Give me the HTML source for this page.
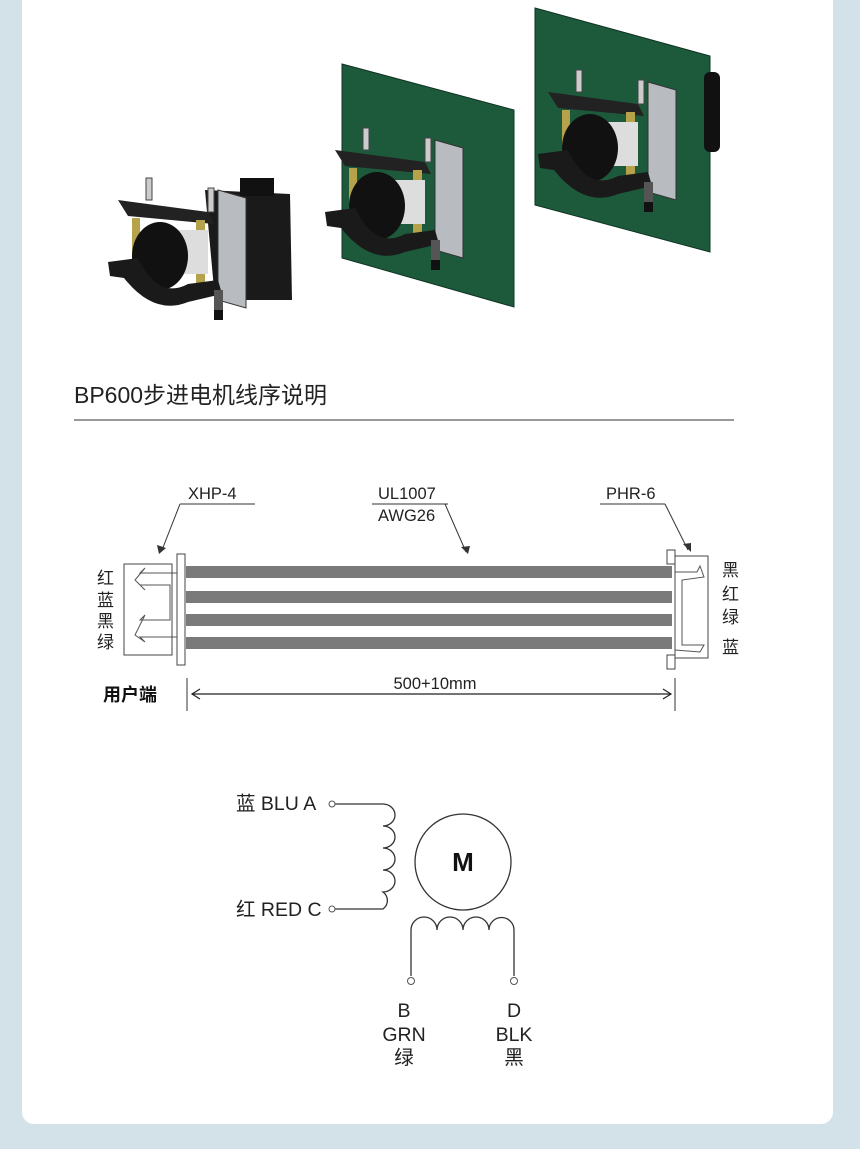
<!DOCTYPE html>
<html><head><meta charset="utf-8"><style>
html,body{margin:0;padding:0;background:#d3e1e8;}
body{width:860px;height:1149px;position:relative;overflow:hidden;font-family:"Liberation Sans","Noto Sans CJK SC",sans-serif;}
.card{position:absolute;left:22px;top:-20px;width:811px;height:1144px;background:#fff;border-radius:12px;}
svg{position:absolute;left:0;top:0;}
</style></head><body>
<div class="card"></div>
<svg width="860" height="1149" viewBox="0 0 860 1149" font-family="Liberation Sans, Noto Sans CJK SC, sans-serif">
<defs>
<g id="pump">
  <polygon points="100,0 128,8 128,118 100,110" fill="#b8bcc0" stroke="#333" stroke-width="1"/>
  <polygon points="0,10 90,22 96,34 10,26" fill="#222"/>
  <rect x="28" y="-12" width="6" height="22" fill="#ccc" stroke="#444"/>
  <rect x="90" y="-2" width="6" height="24" fill="#ccc" stroke="#444"/>
  <rect x="14" y="28" width="8" height="60" fill="#b5a24a"/>
  <rect x="78" y="30" width="9" height="64" fill="#b5a24a"/>
  <rect x="40" y="40" width="50" height="44" fill="#ddd"/>
  <ellipse cx="42" cy="66" rx="28" ry="34" fill="#111"/>
  <path d="M-10,72 L20,68 Q40,110 70,94 L100,90 L104,104 L70,112 Q36,126 6,88 L-8,86 Z" fill="#1a1a1a"/>
  <rect x="96" y="100" width="9" height="22" fill="#555"/>
  <rect x="96" y="120" width="9" height="10" fill="#111"/>
</g>
</defs>
<polygon points="205,190 290,194 292,300 215,300" fill="#1a1a1a"/>
<rect x="240" y="178" width="34" height="18" fill="#111"/>
<use href="#pump" transform="translate(118,190)"/>
<polygon points="342,64 514,110 514,307 342,258" fill="#1d5a3c" stroke="#0e3322"/>
<use href="#pump" transform="translate(335,140)"/>
<polygon points="535,8 710,56 710,252 535,205" fill="#1d5a3c" stroke="#0e3322"/>
<rect x="704" y="72" width="16" height="80" rx="6" fill="#111"/>
<use href="#pump" transform="translate(548,82)"/>

<text x="74" y="403" font-size="23" fill="#222">BP600步进电机线序说明</text>
<line x1="74" y1="420" x2="734" y2="420" stroke="#333" stroke-width="1"/>

<g font-size="16.5" fill="#222">
<text x="188" y="499">XHP-4</text>
<line x1="180" y1="504" x2="255" y2="504" stroke="#333"/>
<line x1="180" y1="504" x2="162" y2="550" stroke="#333"/>
<polygon points="157,545 166,548 159,554" fill="#333"/>
<text x="378" y="499">UL1007</text>
<line x1="372" y1="504" x2="448" y2="504" stroke="#333"/>
<text x="378" y="521">AWG26</text>
<line x1="445" y1="504" x2="466" y2="552" stroke="#333"/>
<polygon points="461,547 470,546 468,554" fill="#333"/>
<text x="606" y="499">PHR-6</text>
<line x1="600" y1="504" x2="665" y2="504" stroke="#333"/>
<line x1="665" y1="504" x2="688" y2="550" stroke="#333"/>
<polygon points="683,544 691,543 691,552" fill="#333"/>
</g>
<rect x="124" y="564" width="48" height="91" fill="#fff" stroke="#444"/>
<rect x="177" y="554" width="8" height="111" fill="#fff" stroke="#444"/>
<path d="M177,573 L140,573 L145,568 L135,580 L145,590 L140,585 L170,585 L170,620 L140,620 L145,615 L135,635 L145,642 L140,637 L177,637" fill="none" stroke="#555" stroke-width="1"/>
<rect x="186" y="566" width="486" height="12" fill="#7a7a7a"/>
<rect x="186" y="591" width="486" height="12" fill="#7a7a7a"/>
<rect x="186" y="614" width="486" height="12" fill="#7a7a7a"/>
<rect x="186" y="637" width="486" height="12" fill="#7a7a7a"/>
<rect x="667" y="550" width="8" height="14" fill="#fff" stroke="#444"/>
<rect x="667" y="655" width="8" height="14" fill="#fff" stroke="#444"/>
<path d="M675,550 L675,669" stroke="#444"/>
<polygon points="675,556 708,556 708,658 675,658" fill="#fff" stroke="#444"/>
<path d="M675,572 L697,572 L700,566 L704,577 L682,580 L682,645 L704,645 L700,652 L675,650" fill="none" stroke="#555"/>
<g font-size="17" fill="#222">
<text x="97" y="584">红</text><text x="97" y="606">蓝</text><text x="97" y="627">黑</text><text x="97" y="648">绿</text>
<text x="722" y="576">黑</text><text x="722" y="600">红</text><text x="722" y="623">绿</text><text x="722" y="653">蓝</text>
</g>
<text x="103" y="701" font-size="18" font-weight="bold" fill="#111">用户端</text>
<line x1="187" y1="678" x2="187" y2="711" stroke="#333"/>
<line x1="675" y1="678" x2="675" y2="711" stroke="#333"/>
<line x1="192" y1="694" x2="671" y2="694" stroke="#222" stroke-width="1.2"/>
<path d="M200,689 L192,694 L200,699 M663,689 L671,694 L663,699" fill="none" stroke="#222" stroke-width="1.2"/>
<text x="435" y="689" font-size="16.5" fill="#222" text-anchor="middle">500+10mm</text>

<g fill="none" stroke="#333" stroke-width="1.3">
<path d="M334,804 L383,804 A12,11 0 0 1 383,826 A12,11 0 0 1 383,848 A12,11 0 0 1 383,870 A12,11 0 0 1 383,892 A12,11 0 0 1 383,909 L334,909"/>
<circle cx="463" cy="862" r="48"/>
<path d="M411,976 L411,930 A12,12 0 0 1 437,930 A12,12 0 0 1 463,930 A12,12 0 0 1 489,930 A12,12 0 0 1 514,930 L514,976"/>
</g>
<g fill="#fff" stroke="#555" stroke-width="1">
<circle cx="332" cy="804" r="3"/><circle cx="332" cy="909" r="3"/>
<circle cx="411" cy="981" r="3.5"/><circle cx="514" cy="981" r="3.5"/>
</g>
<text x="463" y="871" font-size="26" font-weight="bold" fill="#111" text-anchor="middle">M</text>
<g font-size="19.5" fill="#222">
<text x="236" y="810">蓝 BLU A</text>
<text x="236" y="916">红 RED C</text>
<g text-anchor="middle">
<text x="404" y="1017">B</text><text x="404" y="1041">GRN</text><text x="404" y="1064">绿</text>
<text x="514" y="1017">D</text><text x="514" y="1041">BLK</text><text x="514" y="1064">黑</text>
</g></g>
</svg>
</body></html>
